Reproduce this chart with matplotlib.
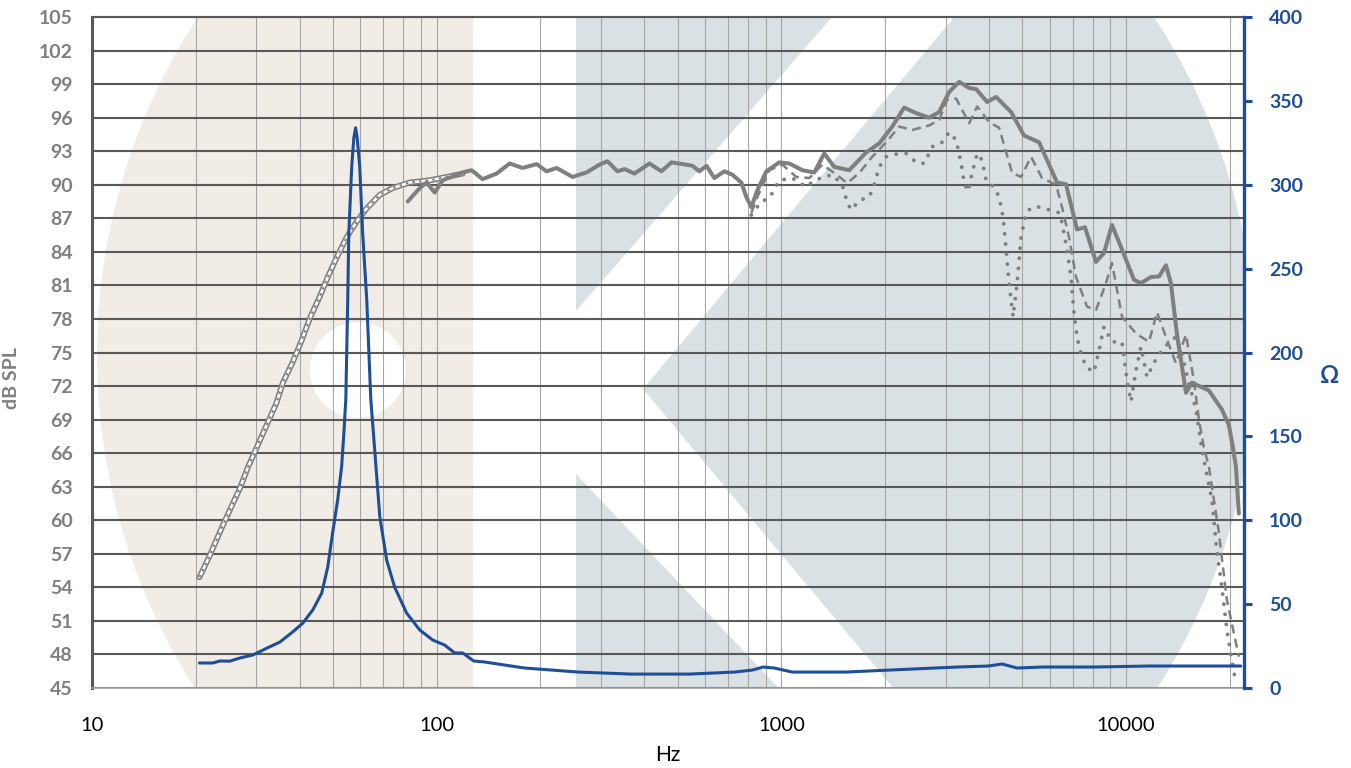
import matplotlib.pyplot as plt
from matplotlib.patches import Ellipse, Rectangle, Polygon
from matplotlib.ticker import FixedLocator, LogLocator, NullFormatter

plt.rcParams['font.family'] = ['Lato', 'DejaVu Sans']

# near-field low frequency response (dB SPL)
nf_freq = [20.5, 22.0, 23.5, 25.1, 26.9, 28.3, 30.1, 32.1, 34.3, 35.8, 38.3, 40.6, 42.9,
           45.8, 48.3, 51.3, 54.8, 58.6, 62.7, 68.4, 74.5, 83.5, 95.5, 107, 119]
nf_spl = [54.9, 56.9, 58.95, 60.9, 62.9, 64.7, 66.55, 68.5, 70.5, 72.3, 74.2, 76.1, 78.1,
          80.0, 81.75, 83.5, 85.3, 86.7, 87.9, 89.1, 89.7, 90.2, 90.4, 90.7, 91.0]

# on-axis response (solid)
on_freq = [82.4, 89.3, 93.5, 98.7, 104.1, 119.0, 126.3, 135.9, 149.3, 162.8, 177.6, 195.0,
           208.4, 222.8, 247.9, 272.2, 296.9, 313.1, 334.6, 350.6, 374.9, 414.3, 448.9, 479.9,
           516.4, 552.1, 578.5, 606.2, 639.4, 683.5, 721.1, 765.7, 791.7, 818.5, 852.0, 904.8,
           987, 1055, 1151, 1247, 1332, 1424, 1574, 1764, 1924, 2098, 2273, 2462, 2685, 2871,
           3069, 3281, 3507, 3675, 3955, 4200, 4642, 5062, 5595, 6310, 6700, 7211, 7606, 8185,
           8635, 9109, 9737, 10550, 11050, 11820, 12470, 13060, 13500, 14050, 14930, 15540,
           17400, 18980, 19890, 20430, 20840, 21260]
on_spl = [88.5, 89.7, 90.2, 89.3, 90.4, 91.1, 91.3, 90.5, 91.0, 91.9, 91.5, 91.85,
          91.2, 91.5, 90.7, 91.1, 91.8, 92.1, 91.2, 91.4, 91.0, 91.9, 91.2, 92.0,
          91.85, 91.7, 91.2, 91.7, 90.6, 91.2, 90.9, 90.2, 88.9, 88.0, 89.5, 91.2,
          92.0, 91.9, 91.3, 91.1, 92.8, 91.6, 91.3, 92.9, 93.7, 95.2, 96.9, 96.4, 96.0, 96.5,
          98.3, 99.2, 98.65, 98.55, 97.4, 97.85, 96.5, 94.4, 93.8, 90.2, 90.05, 86.0, 86.2, 83.1,
          83.9, 86.4, 84.2, 81.5, 81.2, 81.75, 81.8, 82.8, 81.2, 76.7, 71.4, 72.3,
          71.6, 69.9, 68.5, 66.5, 64.8, 60.6]

# off-axis response (dashed)
off1_freq = [818.5, 852.0, 923, 1007, 1105, 1206, 1315, 1424, 1554, 1683, 1835, 2015, 2198,
             2397, 2685, 2871, 3028, 3216, 3507, 3700, 4008, 4284, 4673, 4962, 5304, 5709,
             6268, 6523, 6835, 7163, 7709, 8185, 8750, 9109, 9737, 10690, 11660, 12300, 13060,
             13960, 14930, 15740, 16280, 16830, 17400, 18600, 19620, 20560, 21260]
off1_spl = [87.5, 88.9, 91.3, 91.8, 90.7, 90.6, 91.8, 91.05, 90.15, 91.05, 92.5, 93.8, 95.2,
            94.9, 95.3, 95.8, 97.6, 97.7, 95.5, 97.0, 95.6, 95.1, 91.05, 90.7, 92.5, 90.6,
            90.0, 88.0, 85.3, 81.75, 79.1, 78.8, 81.2, 83.0, 78.2, 76.7, 75.95, 78.6, 76.4,
            74.05, 76.6, 72.5, 69.0, 66.5, 64.8, 58.9, 52.9, 49.9, 47.8]

# off-axis response (dotted)
off2_freq = [818.5, 875, 923, 987, 1076, 1182, 1247, 1332, 1405, 1502, 1554, 1595, 1683, 1799,
             1860, 1924, 2015, 2198, 2303, 2462, 2597, 2740, 2909, 3069, 3216, 3325, 3392, 3483,
             3577, 3700, 3824, 3928, 4144, 4284, 4400, 4489, 4580, 4704, 4832, 4962, 5130, 5340,
             5670, 5983, 6395, 6523, 6745, 6927, 7068, 7211, 7357, 7657, 8077, 8352, 8635, 9109,
             9737, 10070, 10340, 10690, 11050, 11510, 12060, 12630, 13330, 13960, 14530, 15220,
             15960, 16610, 17760, 18350, 18980, 19620, 20290, 20840]
off2_spl = [87.3, 88.5, 88.8, 90.4, 90.6, 89.8, 90.4, 90.7, 90.9, 90.0, 88.4, 87.75, 88.6, 88.9,
            90.0, 91.6, 92.5, 92.8, 92.8, 92.0, 91.9, 93.4, 93.7, 94.7, 94.0, 91.9, 90.2, 89.4,
            91.05, 92.8, 92.2, 90.4, 89.8, 88.9, 87.1, 84.2, 81.2, 78.2, 81.2, 85.3, 87.5, 88.0,
            88.0, 87.75, 87.5, 86.6, 84.2, 81.75, 78.5, 76.4, 75.2, 73.7, 73.25, 75.2, 77.3, 75.95,
            75.95, 72.5, 70.6, 73.4, 75.5, 72.8, 74.1, 75.05, 75.9, 76.4, 74.8, 72.3,
            69.9, 66.3, 61.8, 57.3, 54.0, 50.2, 47.5, 45.4]

# impedance (ohm)
imp_freq = [20.5, 22.4, 23.5, 25.1, 26.9, 29.3, 32.2, 35.1, 38.2, 40.9, 43.7, 46.4, 48.3, 49.9,
            51.6, 53.0, 53.8, 54.5, 55.2, 55.6, 56.7, 57.5, 58.2, 58.8, 59.8, 61.0, 62.7, 64.4,
            66.1, 68.4, 71.6, 75.5, 81.8, 89.3, 97.4, 105.5, 112.8, 119.0, 128.0, 137.7, 180,
            258, 367.6, 541, 731, 824, 887, 954, 1076, 1533, 2397, 3236, 3981, 4371, 4832, 5709,
            8130, 11660, 21540]
imp_ohm = [14.9, 14.9, 16.1, 16.0, 17.9, 19.7, 23.8, 27.4, 33.4, 38.7, 46.5, 56.6, 72.1, 92.4,
           112, 132, 152, 172, 231, 271, 311, 328, 334, 328, 311, 271, 231, 172,
           142, 102, 76.3, 60.2, 44.7, 34.6, 28.6, 25.6, 20.9, 20.9, 16.1, 15.5, 11.9,
           9.5, 8.3, 8.3, 9.5, 10.7, 12.5, 11.9, 9.5, 9.5, 11.3, 12.5, 13.1, 14.3, 11.9, 12.5,
           12.5, 13.1, 13.1]

x_ticks = [10, 100, 1000, 10000]
spl_ticks = list(range(45, 106, 3))
ohm_ticks = list(range(0, 401, 50))

gray = '#7F7F7F'
dark = '#595959'
blue = '#1F4E99'

fig = plt.figure(figsize=(13.51, 7.68), dpi=100)
ax1 = fig.add_axes([92 / 1351, 1 - 688 / 768, 1152 / 1351, 671 / 768])


def px(x, y):
    # pixel position in the picture -> axes fraction
    return ((x - 92) / 1152, (688 - y) / 671)


# watermark logo in the background
beige = Ellipse(px(676, 355), 1158 / 1152, 1198 / 671, transform=ax1.transAxes,
                facecolor='#F1ECE6', edgecolor='none', zorder=0.1)
ax1.add_patch(beige)
beige.set_clip_path(Rectangle((0, 0), px(473, 0)[0], 1, transform=ax1.transAxes))
slate = Ellipse(px(676, 355), 1158 / 1152, 1198 / 671, transform=ax1.transAxes,
                facecolor='#D9E1E5', edgecolor='none', zorder=0.1)
ax1.add_patch(slate)
x_k = px(576, 0)[0]
slate.set_clip_path(Rectangle((x_k, 0), 1 - x_k, 1, transform=ax1.transAxes))
k_cut = [px(576, 311), px(860, -15), px(981, -15), px(643, 389),
         px(920, 720), px(809, 720), px(576, 474)]
ax1.add_patch(Polygon(k_cut, closed=True, transform=ax1.transAxes,
                      facecolor='white', edgecolor='none', zorder=0.2))
ax1.add_patch(Ellipse(px(358, 370), 96 / 1152, 96 / 671, transform=ax1.transAxes,
                      facecolor='white', edgecolor='none', zorder=0.2))

ax1.set_xscale('log')
ax1.set_xlim(10, 22000)
ax1.set_ylim(45, 105)

ax1.plot(nf_freq, nf_spl, color=gray, lw=4.2, solid_capstyle='round', zorder=2)
ax1.plot(nf_freq, nf_spl, color='white', lw=1.9, solid_capstyle='round', zorder=2.1)
ax1.plot(nf_freq, nf_spl, color=gray, lw=1.5, ls=(0, (1.2, 2.0)), zorder=2.2)
ax1.plot(off2_freq, off2_spl, color=gray, lw=2.8, ls=(0, (0.01, 2.6)),
         dash_capstyle='round', zorder=2)
ax1.plot(off1_freq, off1_spl, color=gray, lw=1.8, ls=(0, (3.6, 2.2)), zorder=2)
ax1.plot(on_freq, on_spl, color=gray, lw=2.9, solid_capstyle='round',
         solid_joinstyle='round', zorder=2.3)

ax1.xaxis.set_major_locator(FixedLocator(x_ticks))
ax1.set_xticklabels([str(v) for v in x_ticks])
ax1.xaxis.set_minor_locator(LogLocator(base=10, subs=range(2, 10)))
ax1.xaxis.set_minor_formatter(NullFormatter())
ax1.set_yticks(spl_ticks)
ax1.grid(True, which='both', axis='x', color='#A6A6A6', lw=0.8)
ax1.grid(True, which='major', axis='y', color=dark, lw=1.5)
ax1.set_axisbelow(True)

ax1.tick_params(axis='x', which='both', length=0, pad=21, labelsize=14.5, labelcolor='black')
ax1.tick_params(axis='y', length=0, pad=14, labelsize=14, labelcolor=gray)
for lab in ax1.get_yticklabels():
    lab.set_fontweight('bold')
ax1.set_xlabel('Hz', fontsize=15, color='black', labelpad=8)
ax1.set_ylabel('dB SPL', fontsize=14, color=gray, fontweight='bold')
ax1.yaxis.set_label_coords(-0.0625, 0.462)

ax1.spines['left'].set_color(dark)
ax1.spines['left'].set_linewidth(2.2)
ax1.spines['bottom'].set_color('#A0A0A0')
ax1.spines['bottom'].set_linewidth(1.2)
ax1.spines['top'].set_color(dark)
ax1.spines['top'].set_linewidth(1.5)
ax1.spines['right'].set_visible(False)

ax2 = ax1.twinx()
ax2.plot(imp_freq, imp_ohm, color=blue, lw=2.2, solid_capstyle='round',
         solid_joinstyle='round', zorder=3)
ax2.set_ylim(0, 400)
ax2.set_yticks(ohm_ticks)
ax2.tick_params(axis='y', colors=blue, length=6, width=2.2, pad=12, labelsize=14)
for lab in ax2.get_yticklabels():
    lab.set_fontweight('bold')
for side in ['left', 'top', 'bottom']:
    ax2.spines[side].set_visible(False)
ax2.spines['right'].set_color(blue)
ax2.spines['right'].set_linewidth(2.4)
ax2.set_ylabel('Ω', fontsize=17, color=blue, fontweight='bold', rotation=0, va='center')
ax2.yaxis.set_label_coords(1.0747, 0.465)

fig.savefig('out.png', dpi=100)
